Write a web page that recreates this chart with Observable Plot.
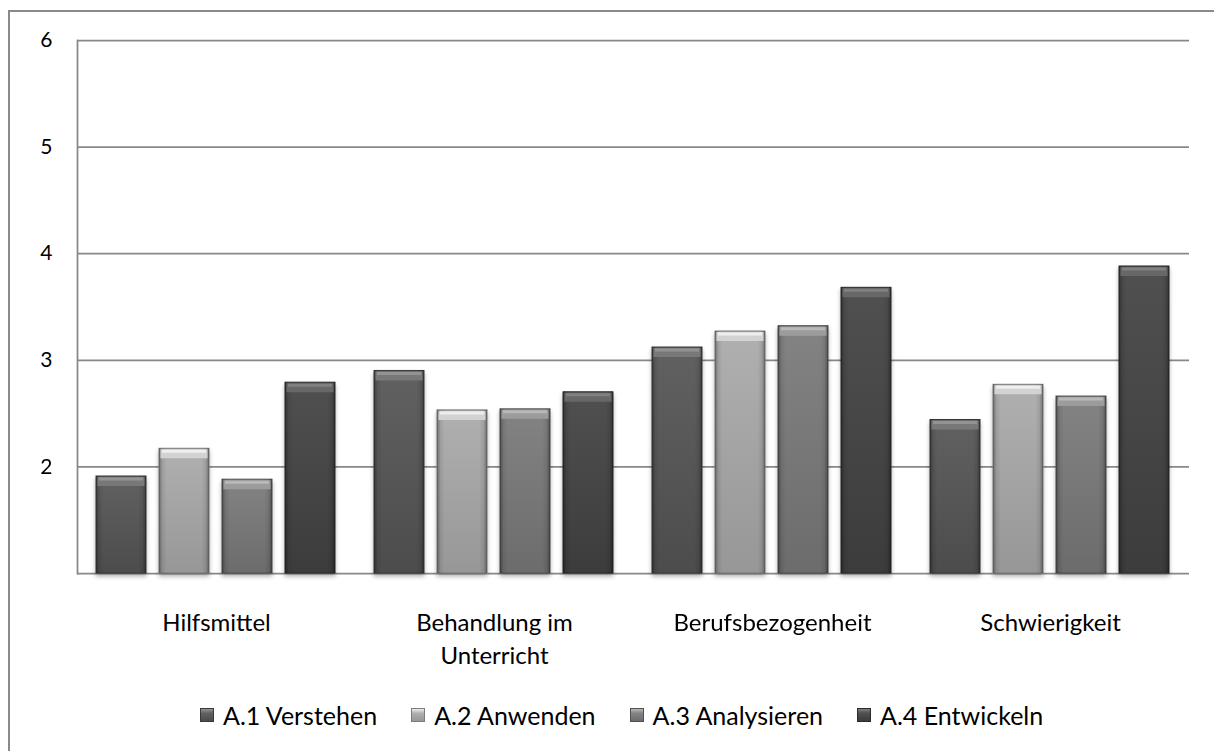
<!DOCTYPE html>
<html><head><meta charset="utf-8">
<script src="https://cdn.jsdelivr.net/npm/d3@7"></script>
<script src="https://cdn.jsdelivr.net/npm/@observablehq/plot@0.6"></script>
<style>
html,body{margin:0;padding:0;background:#fff;}
body{width:1214px;height:751px;position:relative;overflow:hidden;font-family:Lato,sans-serif;}
#border{position:absolute;left:8px;top:10px;width:1300px;height:800px;border-left:2px solid #8a8a8a;border-top:2px solid #8a8a8a;box-sizing:border-box;}
#chart{position:absolute;left:0;top:0;}
#legend{position:absolute;left:200px;top:702px;display:flex;align-items:center;font-size:25px;color:#000;line-height:26px;}
.item{display:flex;align-items:center;margin-right:34px;}
.sw{width:14px;height:14px;margin-right:9px;box-sizing:border-box;}
</style></head><body>
<svg width="0" height="0" style="position:absolute"><defs id="defs"></defs></svg>
<div id="border"></div>
<div id="chart"></div>
<div id="legend"></div>
<script>
const categories = ["Hilfsmittel", "Behandlung im Unterricht", "Berufsbezogenheit", "Schwierigkeit"];
const categoryLabels = ["Hilfsmittel", "Behandlung im\nUnterricht", "Berufsbezogenheit", "Schwierigkeit"];
const series = ["A.1 Verstehen", "A.2 Anwenden", "A.3 Analysieren", "A.4 Entwickeln"];
const a1 = [1.91, 2.90, 3.12, 2.44];
const a2 = [2.17, 2.53, 3.27, 2.77];
const a3 = [1.88, 2.54, 3.32, 2.66];
const a4 = [2.79, 2.70, 3.68, 3.88];
const yTicks = [2, 3, 4, 5, 6];

const bodyTop = ["#616161", "#b0b0b0", "#838383", "#505050"];
const bodyBottom = ["#4c4c4c", "#979797", "#6c6c6c", "#3c3c3c"];
const capColor = ["#787878", "#d2d2d2", "#9c9c9c", "#676767"];
const capLight = ["#939393", "#eeeeee", "#b8b8b8", "#808080"];
const edgeColor = ["#393939", "#7c7c7c", "#515151", "#2b2b2b"];

const allValues = [a1, a2, a3, a4];
const rows = categories.flatMap((c, ci) => series.map((s, si) => ({cat: c, ser: s, si, v: allValues[si][ci]})));

// gradients
const defs = d3.select("#defs");
series.forEach((s, i) => {
  const g = defs.append("linearGradient").attr("id", "g" + i).attr("x1", 0).attr("y1", 0).attr("x2", 0).attr("y2", 1);
  g.append("stop").attr("offset", "0%").attr("stop-color", bodyTop[i]);
  g.append("stop").attr("offset", "100%").attr("stop-color", bodyBottom[i]);
});
const side = defs.append("linearGradient").attr("id", "side").attr("x1", 0).attr("y1", 0).attr("x2", 1).attr("y2", 0);
[[0, 0.35], [0.07, 0.08], [0.15, 0], [0.85, 0], [0.93, 0.08], [1, 0.35]].forEach(([o, a]) =>
  side.append("stop").attr("offset", o).attr("stop-color", "#000").attr("stop-opacity", a));

const labelOf = new Map(categories.map((c, i) => [c, categoryLabels[i]]));

const chart = Plot.plot({
  width: 1214,
  height: 680,
  marginLeft: 75,
  marginRight: 24,
  marginTop: 40,
  marginBottom: 107,
  style: {fontFamily: "Lato, sans-serif", color: "#000", background: "transparent", overflow: "visible"},
  fx: {domain: categories, padding: 0, label: null},
  x: {domain: series, paddingInner: 0.2, paddingOuter: 0.29, axis: null},
  y: {domain: [1, 6], label: null},
  color: {type: "identity"},
  marks: [
    Plot.ruleY([1, ...yTicks], {stroke: "#888888", strokeWidth: 1.75}),
    Plot.frame({anchor: "left", facetAnchor: "left", stroke: "#888888", strokeWidth: 1.75}),
    Plot.barY(rows, {fx: "cat", x: "ser", y1: 1, y2: "v", fill: d => `url(#g${d.si})`, stroke: d => edgeColor[d.si], strokeWidth: 1}),
    Plot.barY(rows, {fx: "cat", x: "ser", y1: 1, y2: "v", fill: d => "url(#side)"}),
    Plot.tickY(rows, {fx: "cat", x: "ser", y: "v", stroke: d => capColor[d.si], strokeWidth: 9, dy: 5, inset: 1.5}),
    Plot.tickY(rows, {fx: "cat", x: "ser", y: "v", stroke: d => capLight[d.si], strokeWidth: 3, dy: 2.5, inset: 3}),
    Plot.axisY({ticks: yTicks, tickFormat: d => String(d), tickSize: 0, tickPadding: 25, fontSize: 21, label: null}),
    Plot.axisFx({anchor: "bottom", tickSize: 0, tickPadding: 34, fontSize: 24, lineHeight: 1.375, label: null, tickFormat: d => labelOf.get(d)})
  ]
});
document.getElementById("chart").appendChild(chart);
const bars = chart.querySelectorAll('g[aria-label="bar"]');
if (bars.length) bars[0].style.filter = "drop-shadow(0px 3px 2px rgba(0,0,0,0.3))";

// legend
const legend = d3.select("#legend");
series.forEach((s, i) => {
  const it = legend.append("div").attr("class", "item");
  it.append("div").attr("class", "sw")
    .style("background", `linear-gradient(to bottom, ${capLight[i]} 0%, ${bodyTop[i]} 35%, ${bodyBottom[i]} 100%)`)
    .style("border", `1px solid ${edgeColor[i]}`);
  it.append("span").text(s);
});
</script>
</body></html>
